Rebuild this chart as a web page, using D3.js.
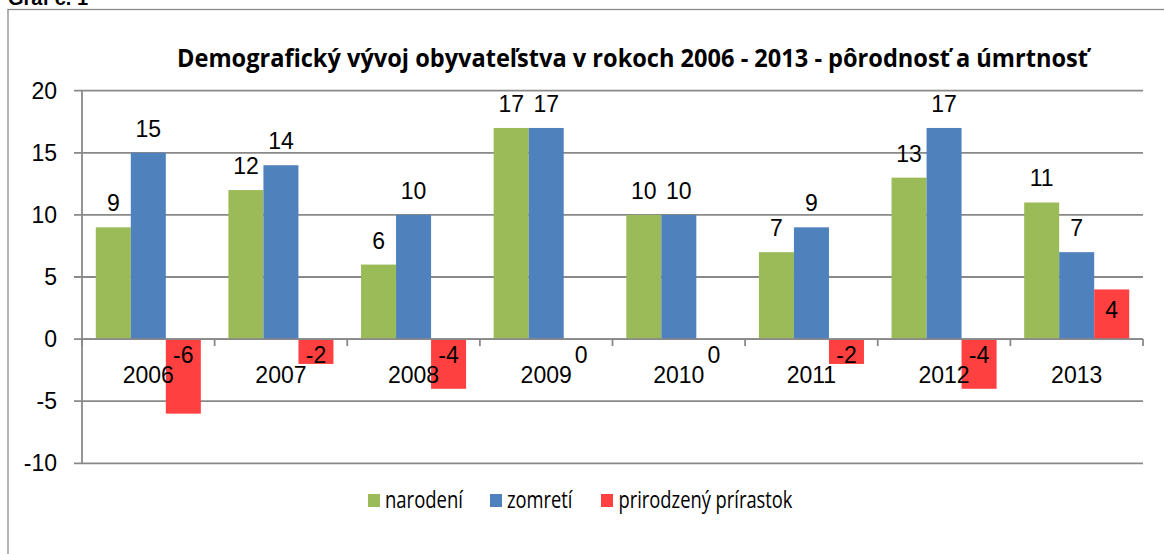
<!DOCTYPE html>
<html>
<head>
<meta charset="utf-8">
<script src="https://cdnjs.cloudflare.com/ajax/libs/d3/7.8.5/d3.min.js"></script>
<style>
  html, body { margin: 0; padding: 0; background: #fff; }
  svg { display: block; }
</style>
</head>
<body>
<svg id="chart" width="1164" height="554"></svg>
<script>
// ---- data ----
const years = ["2006", "2007", "2008", "2009", "2010", "2011", "2012", "2013"];
const seriesNames = ["narodení", "zomretí", "prirodzený prírastok"];
const narodeni = [9, 12, 6, 17, 10, 7, 13, 11];
const zomreti = [15, 14, 10, 17, 10, 9, 17, 7];
const prirastok = [-6, -2, -4, 0, 0, -2, -4, 4];
const yTicks = [-10, -5, 0, 5, 10, 15, 20];
const titleText = "Demografický vývoj obyvateľstva v rokoch 2006 - 2013 - pôrodnosť a úmrtnosť";
const captionText = "Graf č. 1";

const colors = ["#9BBB59", "#4F81BD", "#FF4040"];
const seriesValues = [narodeni, zomreti, prirastok];

const svg = d3.select("#chart");
const font = "'Liberation Sans', Arial, sans-serif";

// outer frame (extends beyond visible area)
svg.append("rect")
  .attr("x", 8).attr("y", 9.5)
  .attr("width", 1200).attr("height", 600)
  .attr("fill", "none").attr("stroke", "#8a8a8a").attr("stroke-width", 1.3);

// caption, mostly above the visible area as in the reference
svg.append("text")
  .attr("x", 8).attr("y", 5)
  .attr("font-family", font).attr("font-weight", "bold").attr("font-size", 20)
  .attr("fill", "#000")
  .text(captionText);

// scales
const plotLeft = 82, plotRight = 1143;
const x = d3.scaleBand().domain(years).range([plotLeft, plotRight])
  .paddingInner(0.208).paddingOuter(0.104);
const xs = d3.scaleBand().domain(d3.range(3)).range([0, x.bandwidth()]);
const y = d3.scaleLinear().domain([-10, 20]).range([463.3, 90.7]);

const gridColor = "#898989";

// gridlines
svg.append("g").selectAll("line").data(yTicks).join("line")
  .attr("x1", plotLeft - 8).attr("x2", plotRight)
  .attr("y1", d => y(d)).attr("y2", d => y(d))
  .attr("stroke", gridColor).attr("stroke-width", 1.8);

// y axis line
svg.append("line")
  .attr("x1", plotLeft).attr("x2", plotLeft)
  .attr("y1", y(20)).attr("y2", y(-10))
  .attr("stroke", gridColor).attr("stroke-width", 1.8);

// y tick labels
svg.append("g").selectAll("text").data(yTicks).join("text")
  .attr("x", 57).attr("y", d => y(d) + 8)
  .attr("text-anchor", "end")
  .attr("font-family", font).attr("font-size", 23)
  .attr("fill", "#000")
  .text(d => d);

// bars
const barData = [];
seriesValues.forEach((vals, si) => {
  vals.forEach((v, i) => barData.push({ si, year: years[i], v }));
});

svg.append("g").selectAll("rect").data(barData.filter(d => d.v !== 0)).join("rect")
  .attr("x", d => x(d.year) + xs(d.si))
  .attr("width", xs.bandwidth())
  .attr("y", d => Math.min(y(d.v), y(0)))
  .attr("height", d => Math.abs(y(d.v) - y(0)))
  .attr("fill", d => colors[d.si]);

// zero axis line (category axis) drawn over bars
svg.append("line")
  .attr("x1", plotLeft).attr("x2", plotRight)
  .attr("y1", y(0)).attr("y2", y(0))
  .attr("stroke", gridColor).attr("stroke-width", 1.8);

// category tick marks
const tickXs = years.map(yr => x(yr) - x.step() * x.paddingOuter()).concat([plotRight]);
svg.append("g").selectAll("line").data(tickXs).join("line")
  .attr("x1", d => d).attr("x2", d => d)
  .attr("y1", y(0)).attr("y2", y(0) + 7)
  .attr("stroke", gridColor).attr("stroke-width", 1.8);

// category labels
svg.append("g").selectAll("text").data(years).join("text")
  .attr("x", d => x(d) + x.bandwidth() / 2)
  .attr("y", y(0) + 44)
  .attr("text-anchor", "middle")
  .attr("font-family", font).attr("font-size", 23)
  .attr("fill", "#000")
  .text(d => d);

// data labels
svg.append("g").selectAll("text").data(barData).join("text")
  .attr("x", d => x(d.year) + xs(d.si) + xs.bandwidth() / 2)
  .attr("y", d => {
    if (d.si < 2) return y(d.v) - 16;
    return d.v > 0 ? y(0) - 21 : y(0) + 24;
  })
  .attr("text-anchor", "middle")
  .attr("font-family", font).attr("font-size", 23)
  .attr("fill", "#000")
  .text(d => d.v);

// title
svg.append("text")
  .attr("x", 632.5).attr("y", 66.5)
  .attr("text-anchor", "middle")
  .attr("font-family", "'Open Sans', 'Liberation Sans', sans-serif")
  .attr("font-weight", "bold").attr("font-size", 25)
  .attr("textLength", 911).attr("lengthAdjust", "spacingAndGlyphs")
  .attr("fill", "#000")
  .text(titleText);

// legend
const legendItems = [
  { sx: 368, tx: 385, tw: 78 },
  { sx: 490, tx: 507, tw: 65.5 },
  { sx: 601, tx: 618.5, tw: 174 }
];
const lg = svg.append("g");
seriesNames.forEach((name, i) => {
  lg.append("rect")
    .attr("x", legendItems[i].sx).attr("y", 494)
    .attr("width", 12).attr("height", 13)
    .attr("fill", colors[i]);
  lg.append("text")
    .attr("x", legendItems[i].tx).attr("y", 508)
    .attr("font-family", "'Open Sans', 'Liberation Sans', sans-serif")
    .attr("font-size", 24)
    .attr("textLength", legendItems[i].tw).attr("lengthAdjust", "spacingAndGlyphs")
    .attr("fill", "#000")
    .text(name);
});
</script>
</body>
</html>
